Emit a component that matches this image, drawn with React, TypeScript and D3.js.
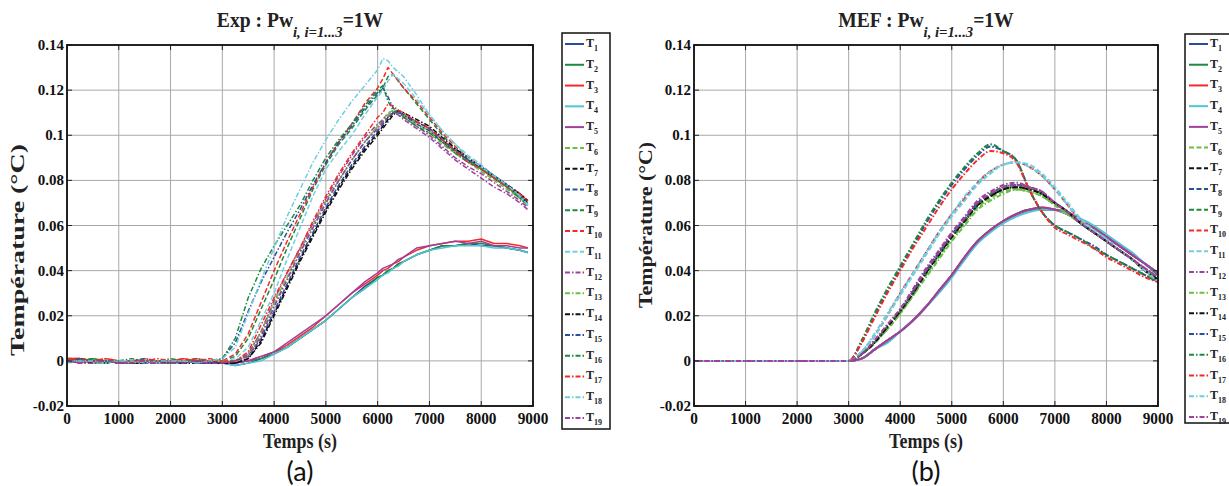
import React from 'react';
import * as d3 from 'd3';

// ---------- DATA ----------
const SERIES_NAMES = ['1','2','3','4','5','6','7','8','9','10','11','12','13','14','15','16','17','18','19'];
const X_TICKS = [0,1000,2000,3000,4000,5000,6000,7000,8000,9000];
const Y_TICKS = [-0.02,0,0.02,0.04,0.06,0.08,0.1,0.12,0.14];
const Y_TICK_LABELS = ['-0.02','0','0.02','0.04','0.06','0.08','0.1','0.12','0.14'];

const TIME_EXP = [0,250,500,750,1000,1250,1500,1750,2000,2250,2500,2750,3000,3250,3500,3750,4000,4250,4500,4750,5000,5250,5500,5750,6000,6100,6200,6300,6400,6500,6750,7000,7250,7500,7750,8000,8250,8500,8750,8900];

const EXP_T1 = [0.000,0.001,0.000,-0.001,0.000,-0.001,0.000,-0.001,-0.001,0.000,-0.001,0.000,-0.001, -0.002,-0.001,0.001,0.003,0.006,0.010,0.014,0.018,0.023,0.028,0.033,0.037,0.038,0.040,0.041,0.043,0.044,0.047,0.049,0.051,0.051,0.052,0.051,0.051,0.050,0.049,0.048];
const EXP_T2 = [0.001,0.000,0.001,0.000,-0.001,0.000,-0.001,0.000,-0.001,0.000,0.000,-0.001,0.000, -0.001,0.000,0.001,0.004,0.006,0.010,0.014,0.018,0.023,0.028,0.032,0.037,0.038,0.040,0.041,0.043,0.044,0.047,0.049,0.051,0.051,0.052,0.052,0.051,0.050,0.049,0.048];
const EXP_T3 = [0.001,0.001,0.000,0.000,-0.001,0.000,0.000,-0.001,0.000,0.001,0.000,0.000,0.000, -0.001,0.000,0.002,0.004,0.007,0.011,0.015,0.020,0.025,0.030,0.034,0.038,0.040,0.041,0.043,0.044,0.046,0.049,0.051,0.052,0.053,0.053,0.054,0.052,0.052,0.051,0.050];
const EXP_T4 = [-0.001,0.000,-0.001,-0.001,0.000,-0.001,-0.001,0.000,-0.001,-0.001,0.000,-0.001,-0.001, -0.002,-0.001,0.000,0.003,0.006,0.010,0.014,0.018,0.023,0.028,0.032,0.036,0.038,0.039,0.041,0.042,0.044,0.047,0.049,0.050,0.051,0.051,0.051,0.050,0.050,0.049,0.048];
const EXP_T5 = [0.000,-0.001,0.000,0.000,-0.001,-0.001,0.000,-0.001,-0.001,0.000,-0.001,-0.001,-0.001, -0.001,0.000,0.002,0.004,0.008,0.012,0.016,0.020,0.025,0.030,0.035,0.039,0.041,0.042,0.043,0.045,0.046,0.050,0.051,0.052,0.053,0.052,0.053,0.051,0.051,0.050,0.050];
const EXP_T6 = [0.000,0.000,-0.001,0.000,-0.001,-0.001,0.000,-0.001,-0.001,0.000,-0.001,0.000,-0.001, 0.000,0.003,0.013,0.026,0.037,0.049,0.060,0.071,0.080,0.089,0.097,0.104,0.107,0.110,0.111,0.110,0.108,0.104,0.101,0.096,0.092,0.088,0.084,0.080,0.076,0.072,0.069];
const EXP_T7 = [0.000,0.001,0.000,-0.001,0.000,-0.001,-0.001,0.000,-0.001,-0.001,0.000,-0.001,-0.001, -0.001,0.001,0.009,0.021,0.033,0.045,0.056,0.067,0.077,0.086,0.094,0.101,0.104,0.107,0.110,0.111,0.109,0.106,0.103,0.098,0.093,0.089,0.085,0.081,0.077,0.073,0.070];
const EXP_T8 = [0.001,0.000,0.000,-0.001,0.000,0.000,-0.001,0.000,-0.001,0.000,-0.001,-0.001,0.000, 0.000,0.002,0.010,0.022,0.034,0.046,0.057,0.068,0.078,0.087,0.095,0.102,0.105,0.108,0.110,0.111,0.109,0.106,0.103,0.098,0.093,0.089,0.086,0.082,0.078,0.074,0.071];
const EXP_T9 = [0.001,0.000,0.001,0.000,0.000,-0.001,0.000,0.000,-0.001,0.000,0.001,0.000,0.000, 0.002,0.010,0.023,0.036,0.050,0.063,0.076,0.087,0.096,0.103,0.111,0.118,0.121,0.126,0.127,0.124,0.121,0.114,0.107,0.100,0.094,0.089,0.085,0.081,0.077,0.073,0.069];
const EXP_T10 = [0.001,0.001,0.000,0.001,0.000,0.000,0.001,0.000,0.000,0.001,0.000,0.001,0.000, 0.003,0.012,0.026,0.040,0.053,0.065,0.077,0.088,0.097,0.105,0.114,0.121,0.125,0.130,0.127,0.124,0.121,0.115,0.108,0.101,0.095,0.090,0.086,0.082,0.078,0.074,0.071];
const EXP_T11 = [0.000,0.000,-0.001,0.000,0.000,-0.001,0.000,-0.001,0.000,0.000,-0.001,0.000,0.000, 0.001,0.006,0.018,0.030,0.045,0.059,0.073,0.085,0.093,0.100,0.109,0.117,0.120,0.124,0.127,0.125,0.123,0.116,0.109,0.102,0.096,0.091,0.087,0.082,0.078,0.073,0.069];
const EXP_T12 = [0.000,-0.001,0.000,0.000,-0.001,0.000,-0.001,-0.001,0.000,-0.001,0.000,-0.001,-0.001, 0.000,0.003,0.013,0.027,0.039,0.050,0.061,0.072,0.082,0.091,0.099,0.105,0.107,0.109,0.111,0.110,0.108,0.104,0.100,0.095,0.090,0.086,0.083,0.079,0.075,0.071,0.068];
const EXP_T13 = [0.001,0.000,-0.001,-0.001,0.000,-0.001,0.000,0.000,-0.001,0.000,-0.001,0.000,0.000, 0.000,0.002,0.012,0.025,0.036,0.048,0.059,0.070,0.080,0.089,0.097,0.104,0.106,0.109,0.111,0.111,0.109,0.105,0.102,0.097,0.092,0.088,0.085,0.081,0.077,0.072,0.069];
const EXP_T14 = [0.000,0.000,-0.001,0.000,-0.001,-0.001,-0.001,0.000,-0.001,-0.001,-0.001,0.000,-0.001, -0.001,0.001,0.008,0.020,0.032,0.044,0.055,0.066,0.076,0.085,0.093,0.100,0.103,0.106,0.109,0.111,0.110,0.107,0.104,0.099,0.094,0.090,0.086,0.082,0.078,0.074,0.071];
const EXP_T15 = [0.000,0.001,0.000,0.000,-0.001,0.000,0.001,0.000,0.000,-0.001,0.000,0.000,0.001, 0.008,0.022,0.035,0.046,0.057,0.067,0.078,0.088,0.097,0.104,0.112,0.119,0.121,0.117,0.112,0.110,0.109,0.105,0.102,0.097,0.093,0.089,0.086,0.082,0.078,0.073,0.070];
const EXP_T16 = [0.001,0.000,0.001,0.000,0.000,0.001,0.000,0.000,0.001,0.000,0.001,0.000,0.001, 0.010,0.028,0.041,0.051,0.060,0.069,0.080,0.090,0.098,0.105,0.113,0.120,0.122,0.115,0.111,0.109,0.108,0.104,0.101,0.097,0.092,0.088,0.085,0.081,0.077,0.072,0.069];
const EXP_T17 = [0.001,0.000,0.000,0.001,0.000,0.000,0.000,0.001,0.000,0.000,0.001,0.000,0.000, 0.000,0.004,0.016,0.028,0.039,0.050,0.062,0.073,0.083,0.092,0.100,0.108,0.110,0.114,0.113,0.111,0.110,0.106,0.103,0.098,0.093,0.088,0.085,0.081,0.077,0.074,0.071];
const EXP_T18 = [0.000,0.000,0.000,-0.001,0.000,0.000,-0.001,0.000,0.000,0.000,-0.001,0.000,0.001, 0.006,0.021,0.036,0.050,0.064,0.076,0.088,0.098,0.107,0.115,0.122,0.129,0.134,0.133,0.130,0.128,0.126,0.118,0.109,0.102,0.096,0.090,0.086,0.082,0.078,0.073,0.069];
const EXP_T19 = [0.000,-0.001,-0.001,0.000,-0.001,-0.001,0.000,-0.001,-0.001,-0.001,0.000,-0.001,-0.001, 0.000,0.002,0.011,0.024,0.036,0.048,0.059,0.070,0.080,0.089,0.097,0.103,0.106,0.108,0.110,0.109,0.107,0.103,0.099,0.094,0.089,0.085,0.081,0.077,0.074,0.070,0.067];

const TIME_MEF = [0,3000,3250,3500,3750,4000,4250,4500,4750,5000,5250,5500,5750,6000,6250,6500,6750,7000,7250,7500,7750,8000,8250,8500,8750,9000];

const MEF_T1 = [0,0,0.001,0.005,0.009,0.013,0.018,0.024,0.031,0.038,0.046,0.053,0.058,0.062,0.065,0.067,0.067,0.067,0.065,0.062,0.059,0.055,0.051,0.047,0.043,0.039];
const MEF_T2 = [0,0,0.001,0.005,0.009,0.013,0.018,0.024,0.031,0.038,0.045,0.053,0.058,0.062,0.065,0.067,0.067,0.067,0.065,0.062,0.059,0.055,0.051,0.047,0.043,0.038];
const MEF_T3 = [0,0,0.001,0.005,0.009,0.013,0.018,0.024,0.031,0.038,0.046,0.053,0.058,0.062,0.065,0.067,0.068,0.067,0.065,0.062,0.059,0.055,0.051,0.047,0.043,0.039];
const MEF_T4 = [0,0,0.001,0.005,0.008,0.013,0.018,0.024,0.030,0.037,0.045,0.052,0.057,0.061,0.064,0.066,0.067,0.067,0.065,0.063,0.060,0.056,0.052,0.048,0.043,0.039];
const MEF_T5 = [0,0,0.001,0.005,0.009,0.013,0.018,0.024,0.031,0.038,0.046,0.053,0.058,0.062,0.065,0.067,0.068,0.067,0.066,0.062,0.059,0.055,0.051,0.047,0.043,0.039];
const MEF_T6 = [0,0,0.003,0.008,0.014,0.021,0.029,0.038,0.046,0.054,0.061,0.068,0.072,0.075,0.076,0.075,0.073,0.069,0.065,0.061,0.057,0.053,0.049,0.045,0.040,0.036];
const MEF_T7 = [0,0,0.003,0.008,0.015,0.022,0.030,0.039,0.047,0.055,0.062,0.069,0.073,0.076,0.077,0.076,0.074,0.070,0.066,0.061,0.057,0.053,0.049,0.045,0.040,0.036];
const MEF_T8 = [0,0,0.003,0.008,0.015,0.022,0.031,0.040,0.048,0.056,0.063,0.070,0.074,0.077,0.078,0.077,0.074,0.070,0.066,0.061,0.057,0.053,0.049,0.045,0.040,0.036];
const MEF_T9 = [0,0,0.003,0.008,0.015,0.022,0.030,0.039,0.047,0.055,0.062,0.069,0.074,0.077,0.078,0.077,0.074,0.070,0.066,0.061,0.057,0.053,0.049,0.045,0.040,0.036];
const MEF_T10 = [0,0,0.004,0.011,0.020,0.030,0.039,0.048,0.057,0.065,0.072,0.079,0.084,0.087,0.088,0.086,0.082,0.076,0.069,0.062,0.058,0.054,0.049,0.045,0.040,0.036];
const MEF_T11 = [0,0,0.004,0.011,0.020,0.029,0.038,0.047,0.056,0.064,0.071,0.078,0.083,0.087,0.088,0.087,0.083,0.077,0.070,0.063,0.058,0.054,0.049,0.045,0.040,0.035];
const MEF_T12 = [0,0,0.003,0.009,0.016,0.023,0.032,0.041,0.049,0.057,0.064,0.071,0.075,0.078,0.079,0.077,0.075,0.070,0.066,0.061,0.057,0.053,0.049,0.045,0.041,0.037];
const MEF_T13 = [0,0,0.003,0.008,0.014,0.021,0.029,0.037,0.045,0.053,0.060,0.067,0.071,0.074,0.076,0.075,0.073,0.069,0.065,0.061,0.057,0.053,0.049,0.045,0.040,0.036];
const MEF_T14 = [0,0,0.003,0.008,0.015,0.022,0.030,0.039,0.047,0.055,0.062,0.069,0.073,0.076,0.077,0.076,0.074,0.070,0.066,0.061,0.057,0.053,0.049,0.045,0.040,0.036];
const MEF_T15 = [0,0,0.008,0.020,0.031,0.041,0.051,0.061,0.070,0.078,0.085,0.091,0.095,0.093,0.089,0.076,0.066,0.060,0.057,0.054,0.051,0.047,0.044,0.041,0.038,0.035];
const MEF_T16 = [0,0,0.009,0.021,0.032,0.042,0.052,0.062,0.071,0.079,0.086,0.092,0.096,0.093,0.089,0.076,0.066,0.060,0.057,0.054,0.050,0.047,0.044,0.041,0.038,0.035];
const MEF_T17 = [0,0,0.008,0.019,0.030,0.040,0.050,0.059,0.068,0.076,0.083,0.089,0.093,0.092,0.088,0.076,0.066,0.059,0.056,0.053,0.050,0.046,0.043,0.040,0.037,0.035];
const MEF_T18 = [0,0,0.004,0.012,0.021,0.030,0.039,0.048,0.057,0.065,0.073,0.079,0.084,0.087,0.088,0.086,0.082,0.076,0.069,0.062,0.058,0.054,0.049,0.045,0.040,0.035];
const MEF_T19 = [0,0,0.003,0.009,0.016,0.023,0.031,0.040,0.048,0.056,0.063,0.070,0.074,0.077,0.078,0.077,0.075,0.070,0.066,0.061,0.057,0.053,0.049,0.045,0.041,0.037];

const EXP_SERIES = [EXP_T1,EXP_T2,EXP_T3,EXP_T4,EXP_T5,EXP_T6,EXP_T7,EXP_T8,EXP_T9,EXP_T10,EXP_T11,EXP_T12,EXP_T13,EXP_T14,EXP_T15,EXP_T16,EXP_T17,EXP_T18,EXP_T19];
const MEF_SERIES = [MEF_T1,MEF_T2,MEF_T3,MEF_T4,MEF_T5,MEF_T6,MEF_T7,MEF_T8,MEF_T9,MEF_T10,MEF_T11,MEF_T12,MEF_T13,MEF_T14,MEF_T15,MEF_T16,MEF_T17,MEF_T18,MEF_T19];

// ---------- STYLE ----------
const COLORS = ['#2b4c9f','#1b8a3e','#f42a2a','#4fc6d3','#a0409e','#6cbf45','#111111','#2b4c9f','#1b8a3e','#f42a2a','#72cfe0','#a0409e','#6cbf45','#111111','#2b4c9f','#1b8a3e','#f42a2a','#6fcde0','#a0409e'];
const DASHES = ['','','','','','5,2.5','5,2.5','5,2.5','5,2.5','5,2.5','5,2.5','5,2,1.5,2','5,2,1.5,2','5,2,1.5,2','5,2,1.5,2','5,2,1.5,2','5,2,1.5,2','5,2,1.5,2','5,2,1.5,2'];

const SERIF = "'Liberation Serif','Times New Roman',serif";
const W = 1229, H = 486;
const TOP = 45, BOTTOM = 406;

type Panel = {
  id: string; x0: number; x1: number; title: string; tag: string;
  time: number[]; series: number[][]; curve: any; lw: number;
  yl: { x: number; y: number; len: number; fs: number };
  lg: { x: number; w: number; top: number; bottom: number; first: number; step: number; l0: number; l1: number; tx: number };
};

const PANELS: Panel[] = [
  { id: 'exp', x0: 67, x1: 533, title: 'Exp', tag: '(a)', time: TIME_EXP, series: EXP_SERIES, curve: d3.curveLinear, lw: 1.5,
    yl: { x: 18, y: 250, len: 212, fs: 18 },
    lg: { x: 562, w: 48, top: 33, bottom: 429, first: 44, step: 20.78, l0: 565, l1: 584, tx: 586 } },
  { id: 'mef', x0: 694, x1: 1158, title: 'MEF', tag: '(b)', time: TIME_MEF, series: MEF_SERIES, curve: d3.curveMonotoneX, lw: 2,
    yl: { x: 646, y: 225, len: 166, fs: 19 },
    lg: { x: 1185, w: 48, top: 34, bottom: 423, first: 44, step: 20.72, l0: 1189, l1: 1208, tx: 1210 } },
];

function PanelView({ p }: { p: Panel }) {
  const x = d3.scaleLinear().domain([0, 9000]).range([p.x0, p.x1]);
  const y = d3.scaleLinear().domain([-0.02, 0.14]).range([BOTTOM, TOP]);
  const line = d3.line<number>().x((_, i) => x(p.time[i])).y(d => y(d)).curve(p.curve);
  const cx = (p.x0 + p.x1) / 2;
  const tick = 5;
  return (
    <g>
      <defs>
        <clipPath id={`clip-${p.id}`}>
          <rect x={p.x0} y={TOP} width={p.x1 - p.x0} height={BOTTOM - TOP} />
        </clipPath>
      </defs>
      <rect x={p.x0} y={TOP} width={p.x1 - p.x0} height={BOTTOM - TOP} fill="#fff" />
      {/* grid */}
      {X_TICKS.map(t => (
        <line key={'gx' + t} x1={x(t)} x2={x(t)} y1={TOP} y2={BOTTOM} stroke="#a8a8a8" strokeWidth={1} />
      ))}
      {Y_TICKS.map(t => (
        <line key={'gy' + t} x1={p.x0} x2={p.x1} y1={y(t)} y2={y(t)} stroke="#a8a8a8" strokeWidth={1} />
      ))}
      {/* series */}
      <g clipPath={`url(#clip-${p.id})`}>
        {p.series.map((s, i) => (
          <path key={i} d={line(s) || ''} fill="none" stroke={COLORS[i]} strokeWidth={p.lw}
            strokeDasharray={DASHES[i] || undefined} strokeLinejoin="round" />
        ))}
      </g>
      {/* ticks */}
      {X_TICKS.map(t => (
        <g key={'tx' + t}>
          <line x1={x(t)} x2={x(t)} y1={BOTTOM} y2={BOTTOM - tick} stroke="#222" strokeWidth={1} />
          <line x1={x(t)} x2={x(t)} y1={TOP} y2={TOP + tick} stroke="#222" strokeWidth={1} />
          <text transform={`translate(${x(t)},424) scale(0.9,1)`} textAnchor="middle" fontFamily={SERIF}
            fontWeight="bold" fontSize={17} fill="#111">{t}</text>
        </g>
      ))}
      {Y_TICKS.map((t, i) => (
        <g key={'ty' + t}>
          <line x1={p.x0} x2={p.x0 + tick} y1={y(t)} y2={y(t)} stroke="#222" strokeWidth={1} />
          <line x1={p.x1} x2={p.x1 - tick} y1={y(t)} y2={y(t)} stroke="#222" strokeWidth={1} />
          <text x={p.x0 - 3} y={y(t) + 5} textAnchor="end" fontFamily={SERIF} fontWeight="bold" fontSize={15} fill="#111">
            {Y_TICK_LABELS[i]}
          </text>
        </g>
      ))}
      {/* frame */}
      <rect x={p.x0} y={TOP} width={p.x1 - p.x0} height={BOTTOM - TOP} fill="none" stroke="#111" strokeWidth={1.8} />
      {/* title */}
      <text transform={`translate(${cx},27) scale(0.98,1)`} textAnchor="middle" fontFamily={SERIF} fontWeight="bold" fontSize={20} fill="#222">
        {p.title} : Pw
        <tspan dy={10} fontSize={15} fontStyle="italic">i, i=1...3</tspan>
        <tspan dy={-10}>=1W</tspan>
      </text>
      {/* axis labels */}
      <text transform={`translate(${cx},448) scale(0.9,1)`} textAnchor="middle" fontFamily={SERIF} fontWeight="bold" fontSize={20} fill="#222">
        Temps (s)
      </text>
      <text transform={`translate(${p.yl.x},${p.yl.y}) rotate(-90)`} y={6} textAnchor="middle" fontFamily={SERIF} fontWeight="bold"
        fontSize={p.yl.fs} textLength={p.yl.len} lengthAdjust="spacingAndGlyphs" fill="#222">
        Température (°C)
      </text>
      <text x={cx} y={481} textAnchor="middle" fontFamily="Lato, 'Open Sans', sans-serif" fontSize={27} fill="#111">{p.tag}</text>
      {/* legend */}
      <rect x={p.lg.x} y={p.lg.top} width={p.lg.w} height={p.lg.bottom - p.lg.top} fill="#fff" stroke="#111" strokeWidth={1.5} />
      {SERIES_NAMES.map((n, i) => {
        const ly = p.lg.first + i * p.lg.step;
        return (
          <g key={'lg' + n}>
            <line x1={p.lg.l0} x2={p.lg.l1} y1={ly} y2={ly} stroke={COLORS[i]} strokeWidth={2}
              strokeDasharray={DASHES[i] || undefined} />
            <text x={p.lg.tx} y={ly + 3} fontFamily={SERIF} fontWeight="bold" fontSize={12} fill="#222">
              T<tspan dy={4} fontSize={8}>{n}</tspan>
            </text>
          </g>
        );
      })}
    </g>
  );
}

export default function App() {
  return (
    <svg width={W} height={H} viewBox={`0 0 ${W} ${H}`} style={{ position: 'absolute', left: 0, top: 0, background: '#fff' }}>
      <rect x={0} y={0} width={W} height={H} fill="#fff" />
      {PANELS.map(p => <PanelView key={p.id} p={p} />)}
    </svg>
  );
}
